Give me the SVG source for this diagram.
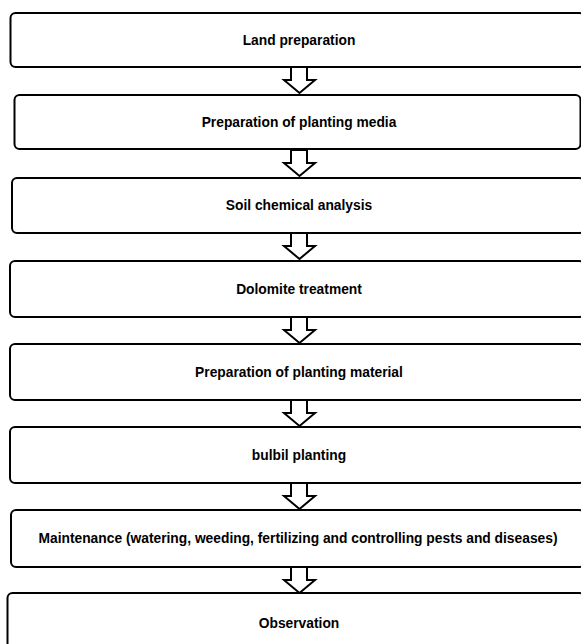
<svg xmlns="http://www.w3.org/2000/svg" xmlns:xlink="http://www.w3.org/1999/xlink" width="581" height="644" viewBox="0 0 581 644">
<style>
.box{fill:#fff;stroke:#000;stroke-width:2}
.lbl{font-family:"Liberation Sans",Arial,sans-serif;font-weight:bold;font-size:13.8px;fill:#000;text-anchor:middle}
.arr{fill:#fff;stroke:#000;stroke-width:2;stroke-linejoin:miter}
</style>
<defs>
<path id="ar" d="M291,0 L307,0 L307,13 L315,13 L299.5,26 L284,13 L291,13 Z"/>
</defs>
<rect width="581" height="644" fill="#fff"/>
<g id="connectors">
<use xlink:href="#ar" class="arr" transform="translate(0,67)"/>
<use xlink:href="#ar" class="arr" transform="translate(0,150)"/>
<use xlink:href="#ar" class="arr" transform="translate(0,233)"/>
<use xlink:href="#ar" class="arr" transform="translate(0,317)"/>
<use xlink:href="#ar" class="arr" transform="translate(0,400)"/>
<use xlink:href="#ar" class="arr" transform="translate(0,483)"/>
<use xlink:href="#ar" class="arr" transform="translate(0,567)"/>
</g>
<g id="n1"><rect class="box" x="10.5" y="13" width="574" height="54" rx="5"/><text class="lbl" x="299" y="45">Land preparation</text></g>
<g id="n2"><rect class="box" x="14.5" y="95" width="566" height="54" rx="5"/><text class="lbl" x="299" y="127">Preparation of planting media</text></g>
<g id="n3"><rect class="box" x="12" y="178" width="572" height="55" rx="5"/><text class="lbl" x="299" y="210">Soil chemical analysis</text></g>
<g id="n4"><rect class="box" x="10" y="261" width="574" height="56" rx="5"/><text class="lbl" x="299" y="294">Dolomite treatment</text></g>
<g id="n5"><rect class="box" x="10" y="344" width="574" height="56" rx="5"/><text class="lbl" x="299" y="377">Preparation of planting material</text></g>
<g id="n6"><rect class="box" x="10" y="427" width="574" height="56" rx="5"/><text class="lbl" x="299" y="460">bulbil planting</text></g>
<g id="n7"><rect class="box" x="11" y="510" width="573" height="57" rx="5"/><text class="lbl" x="298" y="543">Maintenance (watering, weeding, fertilizing and controlling pests and diseases)</text></g>
<g id="n8"><rect class="box" x="7.5" y="593" width="577" height="70" rx="5"/><text class="lbl" x="299" y="628">Observation</text></g>
</svg>
